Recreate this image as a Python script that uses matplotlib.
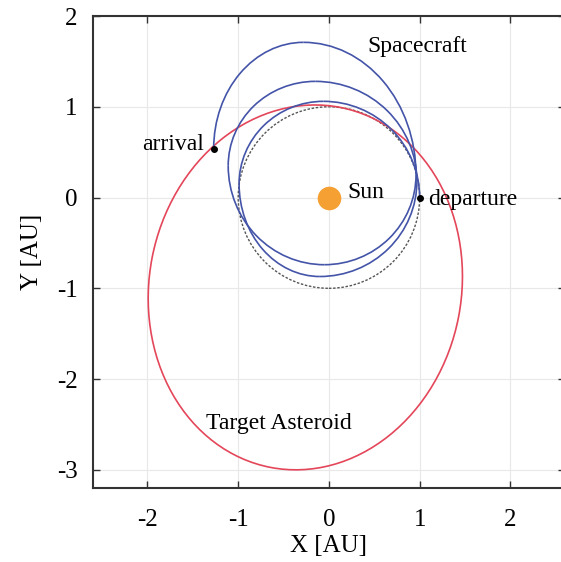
import numpy as np
import matplotlib
matplotlib.use("Agg")
import matplotlib.pyplot as plt
from matplotlib.patches import Arc, Ellipse, Circle

plt.rcParams['font.family'] = ['Liberation Serif', 'DejaVu Serif']
plt.rcParams['axes.unicode_minus'] = False

# spacecraft path as a chain of extreme points (right, top, left, bottom, ...)
sc_kind = ['R', 'T', 'L', 'B', 'R', 'T', 'L', 'B', 'R', 'T', 'L']
sc_x = [1.00, -0.06, -0.99, -0.10, 0.97, -0.15, -1.11, -0.05, 0.96, -0.28, -1.27]
sc_y = [0.00, 1.06, 0.15, -0.87, 0.18, 1.28, 0.35, -0.74, 0.25, 1.71, 0.54]

# target asteroid orbit (ellipse) and Earth orbit
ast_center = (-0.26, -0.99)
ast_major = 2.02
ast_minor = 1.72
ast_angle = 79.0
earth_r = 1.0

departure = (1.0, 0.0)
arrival = (-1.27, 0.54)

xticks = [-2, -1, 0, 1, 2]
yticks = [-3, -2, -1, 0, 1, 2]

blue = '#4454a8'
red = '#e4465a'

fig = plt.figure(figsize=(5.61, 5.62), dpi=100)
ax = fig.add_axes([0.1658, 0.1317, 0.841, 0.8398])
ax.set_xlim(-2.6, 2.6)
ax.set_ylim(-3.2, 2.0)

ax.grid(True, color='#e8e8e8', lw=0.8, zorder=0)

# Earth orbit
ax.add_patch(Circle((0, 0), earth_r, fill=False, ls=(0, (1.8, 1.2)),
                    color='#555555', lw=1.0, zorder=2))

# asteroid orbit
ax.add_patch(Ellipse(ast_center, 2 * ast_major, 2 * ast_minor, angle=ast_angle,
                     fill=False, color=red, lw=1.2, zorder=3))

# spacecraft: quarter ellipse arcs between consecutive extremes
arc_angles = {('R', 'T'): (0, 90), ('T', 'L'): (90, 180),
              ('L', 'B'): (180, 270), ('B', 'R'): (270, 360)}
for i in range(len(sc_kind) - 1):
    k0, k1 = sc_kind[i], sc_kind[i + 1]
    x0, y0, x1, y1 = sc_x[i], sc_y[i], sc_x[i + 1], sc_y[i + 1]
    if k0 in 'RL':
        cx, cy = x1, y0
    else:
        cx, cy = x0, y1
    w = 2 * max(abs(x1 - cx), abs(x0 - cx))
    h = 2 * max(abs(y1 - cy), abs(y0 - cy))
    t1, t2 = arc_angles[(k0, k1)]
    ax.add_patch(Arc((cx, cy), w, h, theta1=t1, theta2=t2,
                     color=blue, lw=1.2, zorder=4))

# sun and end points
ax.plot([0], [0], 'o', color='#f5a033', ms=17, mec='none', zorder=5)
ax.plot([departure[0], arrival[0]], [departure[1], arrival[1]], 'o',
        color='black', ms=4, zorder=6)

fs = 17
ax.text(0.97, 1.66, 'Spacecraft', fontsize=fs, ha='center', va='center')
ax.text(0.2, 0.06, 'Sun', fontsize=fs, ha='left', va='center')
ax.text(1.09, -0.02, 'departure', fontsize=fs, ha='left', va='center')
ax.text(-1.38, 0.58, 'arrival', fontsize=fs, ha='right', va='center')
ax.text(-0.55, -2.49, 'Target Asteroid', fontsize=fs, ha='center', va='center')

ax.set_xticks(xticks)
ax.set_yticks(yticks)
ax.tick_params(direction='in', length=5, width=1.0, top=True, right=True,
               labelsize=18, color='#333333')
ax.tick_params(axis='x', pad=15)
ax.tick_params(axis='y', pad=11)
for s in ax.spines.values():
    s.set_color('#333333')
    s.set_linewidth(1.5)

ax.set_xlabel('X [AU]', fontsize=18, labelpad=3)
ax.set_ylabel('Y [AU]', fontsize=18, labelpad=10)

fig.savefig('out.png', dpi=100)
